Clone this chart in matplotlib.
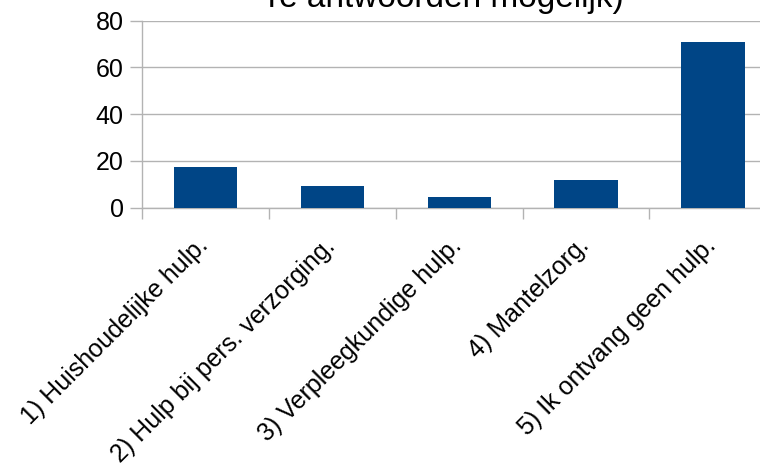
import matplotlib
matplotlib.use("Agg")
import matplotlib.pyplot as plt
import matplotlib.transforms as mtransforms
import numpy as np

plt.rcParams['font.family'] = ['Liberation Sans', 'DejaVu Sans']

categories = ["1) Huishoudelijke hulp.",
              "2) Hulp bij pers. verzorging.",
              "3) Verpleegkundige hulp.",
              "4) Mantelzorg.",
              "5) Ik ontvang geen hulp."]
values = [17.4, 9.3, 4.6, 11.9, 71.0]
y_ticks = [0, 20, 40, 60, 80]
title_line = "re antwoorden mogelijk)"

grey = "#b3b3b3"
bar_color = "#004586"

fig = plt.figure(figsize=(7.6, 4.66), dpi=100)
# the original chart is cropped on the right, so the axes runs past the figure edge
ax = fig.add_axes([0.1872, 0.5547, 0.8342, 0.4009])

x = np.arange(len(categories))
ax.bar(x, values, width=0.5, color=bar_color, zorder=3)

ax.set_xlim(-0.5, len(categories) - 0.5)
ax.set_ylim(0, 80)
ax.set_yticks(y_ticks)
ax.set_yticklabels([str(v) for v in y_ticks], fontsize=18)
ax.yaxis.grid(True, color=grey, linewidth=1)
ax.set_axisbelow(True)

# boundary ticks without labels, labels on minor ticks at the bar centres
ax.set_xticks(np.arange(len(categories) + 1) - 0.5)
ax.set_xticklabels([])
ax.set_xticks(x, minor=True)
ax.set_xticklabels(categories, minor=True, fontsize=18, rotation=45,
                   ha='right', va='baseline', rotation_mode='anchor')
ax.tick_params(axis='x', which='minor', length=0, pad=28.4)
ax.tick_params(axis='x', which='major', length=8, width=1, color=grey)
ax.tick_params(axis='y', length=8.5, width=1, color=grey, pad=5)

offset = mtransforms.ScaledTranslation(4 / 100, 0, fig.dpi_scale_trans)
for lab in ax.get_xticklabels(minor=True):
    lab.set_transform(lab.get_transform() + offset)

for side in ['top', 'right']:
    ax.spines[side].set_visible(False)
for side in ['left', 'bottom']:
    ax.spines[side].set_color(grey)
    ax.spines[side].set_linewidth(1)

# only the lower part of the last title line is inside the crop
fig.text(446 / 760, 1 - 7 / 466, title_line, fontsize=24,
         ha='center', va='baseline')

fig.savefig("out.png", dpi=100)
